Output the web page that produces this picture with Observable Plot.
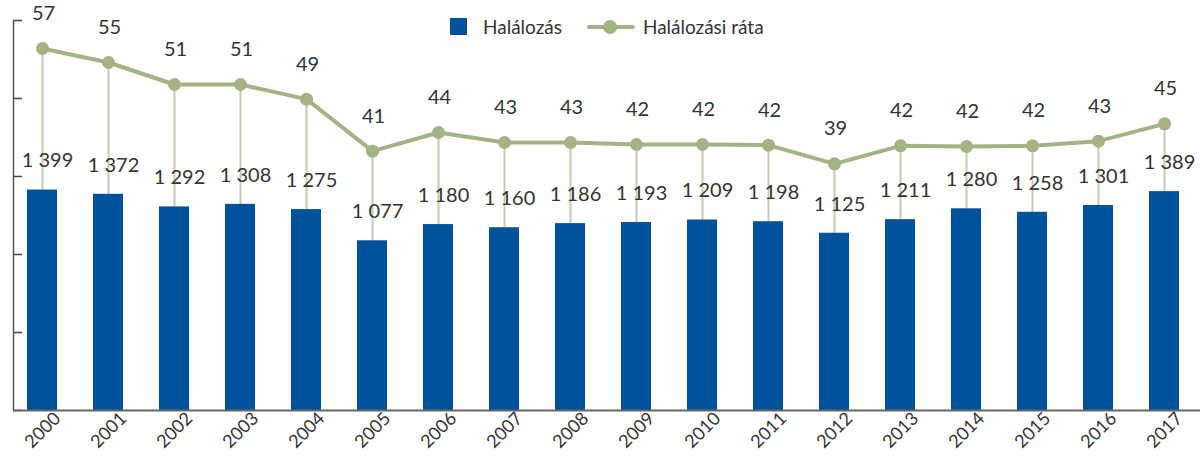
<!DOCTYPE html>
<html><head><meta charset="utf-8">
<script src="https://cdn.jsdelivr.net/npm/d3@7"></script>
<script src="https://cdn.jsdelivr.net/npm/@observablehq/plot@0.6"></script>
<style>
body{margin:0;background:#fff;font-family:Lato,"Open Sans",sans-serif;}
#wrap{position:relative;width:1200px;height:460px;}
#legend{position:absolute;top:15px;left:450px;display:flex;align-items:center;font-size:19px;color:#333;font-family:Lato,sans-serif;}
.sw{width:17px;height:17px;background:#00529b;margin-right:16px;}
.ln{position:relative;width:48px;height:4px;background:#a3b383;margin-left:25px;margin-right:8px;border-radius:2px;}
.ln::after{content:"";position:absolute;left:16px;top:-5px;width:14px;height:14px;border-radius:50%;background:#a3b383;}
</style></head>
<body>
<div id="wrap"><div id="chart"></div>
<div id="legend"><div class="sw"></div><span>Halálozás</span><div class="ln"></div><span>Halálozási ráta</span></div>
</div>
<script>
const years = ["2000","2001","2002","2003","2004","2005","2006","2007","2008","2009","2010","2011","2012","2013","2014","2015","2016","2017"];
const deaths = [1399,1372,1292,1308,1275,1077,1180,1160,1186,1193,1209,1198,1125,1211,1280,1258,1301,1389];
const rate = [56.7,54.6,51.3,51.3,49.1,41.3,44.1,42.6,42.6,42.3,42.3,42.2,39.4,42.1,42.0,42.1,42.8,45.4];
const barAxis = [0, 2475];
const rateAxis = [2.4, 60.9];
const yTicks = [0, 495, 990, 1485, 1980, 2475];

const toBar = v => (v - rateAxis[0]) / (rateAxis[1] - rateAxis[0]) * barAxis[1];
const fmt = n => { const s = String(n); return s.length > 3 ? s.slice(0, -3) + " " + s.slice(-3) : s; };
const data = years.map((y, i) => ({year: y, deaths: deaths[i], rate: rate[i], rateY: toBar(rate[i])}));

const chart = Plot.plot({
  width: 1200, height: 460,
  marginTop: 20, marginBottom: 50, marginLeft: 13, marginRight: 0,
  style: {fontFamily: "Lato, sans-serif", color: "#333", background: "#fff"},
  x: {domain: years, paddingInner: 0.55, paddingOuter: 0.2, align: 0.39, label: null},
  y: {domain: barAxis, label: null},
  marks: [
    Plot.ruleX(data, {x: "year", y1: "deaths", y2: "rateY", stroke: "#c5caae", strokeWidth: 2}),
    Plot.barY(data, {x: "year", y: "deaths", fill: "#00529b"}),
    Plot.line(data, {x: "year", y: "rateY", stroke: "#a3b383", strokeWidth: 4}),
    Plot.dot(data, {x: "year", y: "rateY", r: 6.5, fill: "#a3b383"}),
    Plot.text(data, {x: "year", y: "deaths", text: d => fmt(d.deaths), dy: -29, dx: 5, fontSize: 20, fill: "#333"}),
    Plot.text(data, {x: "year", y: "rateY", text: d => String(Math.round(d.rate)), dy: -35, dx: 1, fontSize: 20, fill: "#333"}),
    Plot.axisY({ticks: yTicks, tickSize: -9, tickFormat: () => "", stroke: "#444", strokeWidth: 1.5}),
    Plot.axisX({tickRotate: -45, tickSize: 0, tickPadding: 4, dx: 15, dy: 1, fontSize: 18, fill: "#333"}),
    Plot.frame({anchor: "left", stroke: "#555", strokeWidth: 1.5}),
    Plot.ruleY([0], {stroke: "#666", strokeWidth: 2})
  ]
});
document.getElementById("chart").appendChild(chart);
</script>
</body></html>
